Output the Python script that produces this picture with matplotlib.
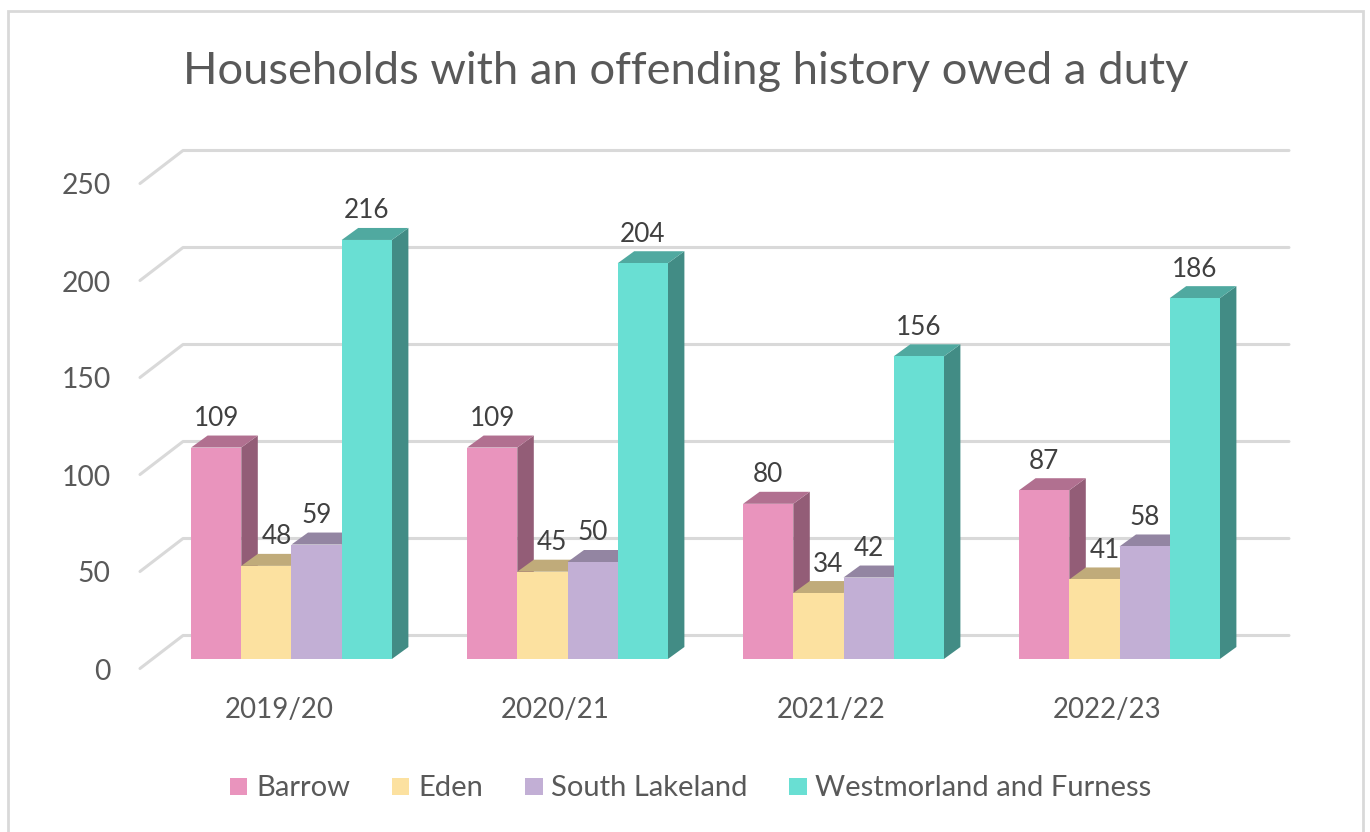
#!/usr/bin/env python3
"""Households with an offending history owed a duty, drawn as a faux-3D column chart."""

import matplotlib

matplotlib.use("Agg")

import matplotlib.pyplot as plt
from matplotlib.colors import to_rgb
from matplotlib.patches import Polygon, Rectangle

plt.rcParams["font.family"] = ["Lato", "DejaVu Sans"]

TITLE = "Households with an offending history owed a duty"
YEARS = ["2019/20", "2020/21", "2021/22", "2022/23"]
SERIES = ["Barrow", "Eden", "South Lakeland", "Westmorland and Furness"]
BARROW = [109, 109, 80, 87]
EDEN = [48, 45, 34, 41]
SOUTH_LAKELAND = [59, 50, 42, 58]
WESTMORLAND = [216, 204, 156, 186]
Y_TICKS = [0, 50, 100, 150, 200, 250]

COLORS = ["#E994BD", "#FCE1A0", "#C2AFD5", "#69DFD3"]
GRID = "#D9D9D9"
AXIS_TEXT = "#595959"
LABEL_TEXT = "#404040"

W, H = 1370, 832
PX_X = 276.0          # pixels per category
PX_Y = 1.94           # pixels per household
X0_PX, Y0_PX = 291.5, 659.0
BAR_W = 50.2 / PX_X
DX = 16.5 / PX_X      # depth of a bar
DY = 12.0 / PX_Y


def shade(color, k):
    return tuple(c * k for c in to_rgb(color))


def draw_bar(ax, x, v, color, z):
    """Front, top and side faces of one column, front-left corner at (x, 0)."""
    r = x + BAR_W
    faces = [
        ([(r, 0), (r + DX, DY), (r + DX, v + DY), (r, v)], shade(color, 0.63)),
        ([(x, v), (x + DX, v + DY), (r + DX, v + DY), (r, v)], shade(color, 0.76)),
        ([(x, 0), (r, 0), (r, v), (x, v)], color),
    ]
    for pts, c in faces:
        ax.add_patch(Polygon(pts, closed=True, facecolor=c, edgecolor="none", zorder=z))


def main():
    fig = plt.figure(figsize=(W / 100, H / 100), dpi=100)
    ax = fig.add_axes([0, 0, 1, 1])
    ax.set_xlim(-X0_PX / PX_X, (W - X0_PX) / PX_X)
    ax.set_ylim((Y0_PX - H) / PX_Y, Y0_PX / PX_Y)
    ax.axis("off")

    # chart frame
    to_x = lambda px: (px - X0_PX) / PX_X
    to_y = lambda py: (Y0_PX - py) / PX_Y
    ax.plot([to_x(8), to_x(8), to_x(1363), to_x(1363)],
            [to_y(840), to_y(10.5), to_y(10.5), to_y(840)],
            color=GRID, lw=2.0, zorder=0, solid_joinstyle="miter")

    # floor slant + back wall gridlines
    slant_x, back_x, end_x = to_x(140), to_x(183), to_x(1289)
    front_dy, back_dy = to_y(668.5), to_y(635.5)
    label_dy = to_y(671.5)
    for t in Y_TICKS:
        ax.plot([slant_x, back_x, end_x], [t + front_dy, t + back_dy, t + back_dy],
                color=GRID, lw=2.2, zorder=1, solid_capstyle="round")
        ax.text(to_x(110.5), t + label_dy, str(t), ha="right", va="center",
                fontsize=20.3, color=AXIS_TEXT)

    series_vals = [BARROW, EDEN, SOUTH_LAKELAND, WESTMORLAND]
    for g, year in enumerate(YEARS):
        ax.text(g - 12.5 / PX_X, to_y(710), year, ha="center", va="center",
                fontsize=19.9, color=AXIS_TEXT)
        for s, vals in enumerate(series_vals):
            x = g + (s - 2) * BAR_W
            v = vals[g]
            draw_bar(ax, x, v, COLORS[s], 2 + g * 4 + s)
            # short bars have their label nudged clear of the neighbour's side
            shift = 10 / PX_X if s == 1 else 0
            ax.text(x + BAR_W / 2 + shift, v + 29 / PX_Y, str(v), ha="center",
                    va="center", fontsize=18.8, color=LABEL_TEXT, zorder=40)

    ax.text(to_x(686), to_y(72), TITLE, ha="center", va="center", fontsize=32.6,
            color=AXIS_TEXT)

    # legend
    legend_px = [230, 392, 525, 789]
    for name, c, px in zip(SERIES, COLORS, legend_px):
        ax.add_patch(Rectangle((to_x(px), to_y(795)), 17.5 / PX_X, 17.5 / PX_Y,
                               facecolor=c, edgecolor="none"))
        ax.text(to_x(px + 26), to_y(788), name, ha="left", va="center",
                fontsize=21, color=AXIS_TEXT)

    fig.savefig("out.png", dpi=100)
    plt.close(fig)


if __name__ == "__main__":
    main()
